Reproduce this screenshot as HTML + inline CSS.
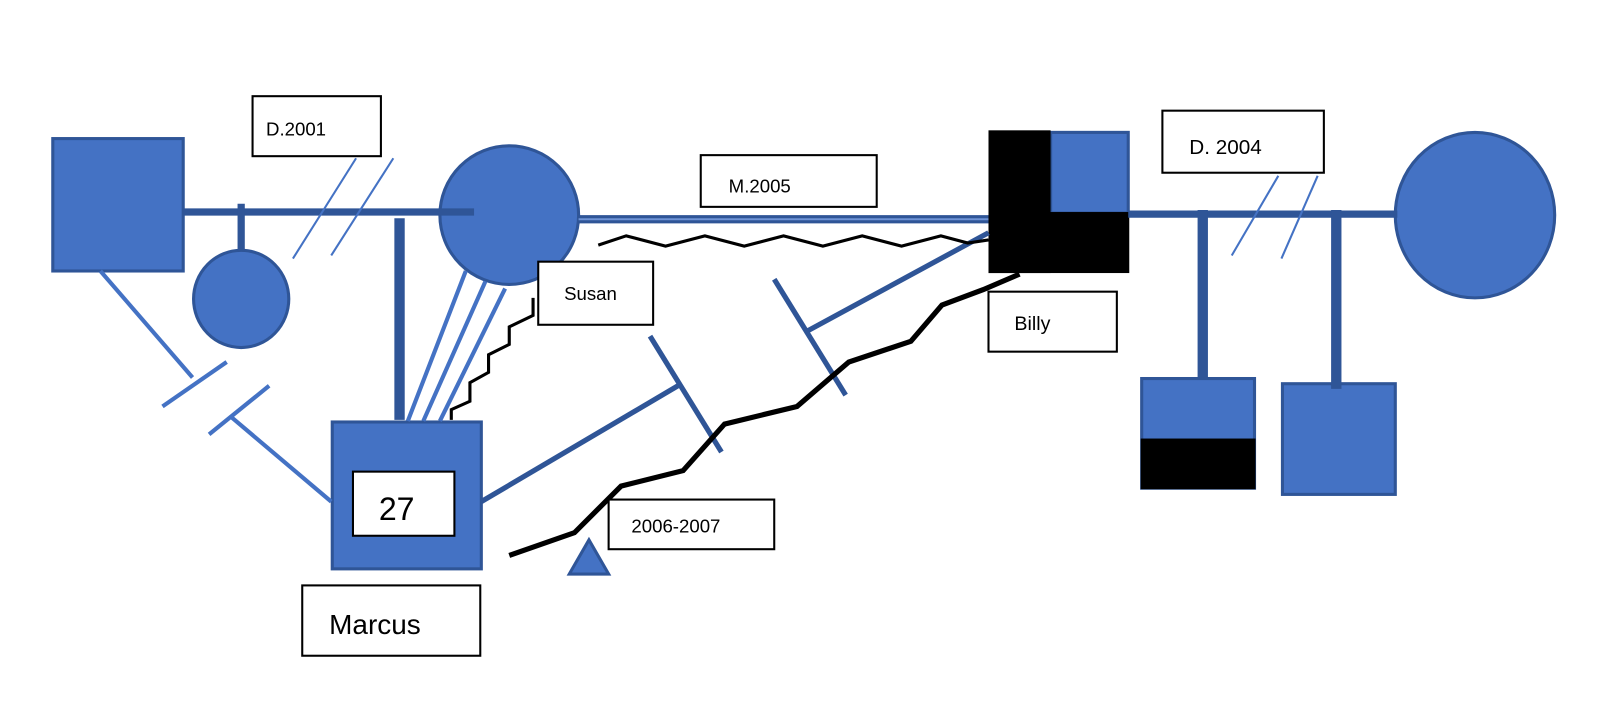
<!DOCTYPE html>
<html><head><meta charset="utf-8"><style>
html,body{margin:0;padding:0;background:#fff;}
svg{display:block;}
text{font-family:"Liberation Sans",sans-serif;fill:#000;}
</style></head><body>
<svg width="1623" height="724" viewBox="0 0 1568 700" preserveAspectRatio="none" xmlns="http://www.w3.org/2000/svg">
<g fill="#4472c4" stroke="#2f5597" stroke-width="3">
<rect x="51" y="134" width="126" height="128"/>
<ellipse cx="233" cy="289" rx="46" ry="47"/>
<circle cx="492" cy="208" r="67"/>
<rect x="321" y="408" width="144" height="142"/>
<ellipse cx="1425" cy="208" rx="77" ry="80"/>
<rect x="1103" y="366" width="109" height="106"/>
<rect x="1239" y="371" width="109" height="107"/>
<rect x="1015" y="128" width="75" height="78"/>
<polygon points="550,555 588,555 569,522"/>
</g>
<rect x="955" y="126" width="60" height="138" fill="#000"/>
<rect x="955" y="205" width="136" height="59" fill="#000"/>
<rect x="1102" y="424" width="111" height="49" fill="#000"/>

<g stroke="#2f5597" fill="none">
<line x1="177" y1="205" x2="458" y2="205" stroke-width="7"/>
<line x1="233" y1="197" x2="233" y2="243" stroke-width="7"/>
<line x1="386" y1="211" x2="386" y2="406" stroke-width="10"/>
<line x1="559" y1="212" x2="955" y2="212" stroke-width="8"/>
<line x1="1090" y1="207" x2="1350" y2="207" stroke-width="7"/>
<line x1="1162" y1="203" x2="1162" y2="366" stroke-width="10"/>
<line x1="1291" y1="203" x2="1291" y2="376" stroke-width="10"/>
</g>
<line x1="559" y1="212" x2="955" y2="212" stroke="#6f93d6" stroke-width="2"/>
<g stroke="#4472c4" fill="none">
<line x1="344" y1="153" x2="283" y2="250" stroke-width="2"/>
<line x1="380" y1="153" x2="320" y2="247" stroke-width="2"/>
<line x1="1235" y1="170" x2="1190" y2="247" stroke-width="2"/>
<line x1="1273" y1="170" x2="1238" y2="250" stroke-width="2"/>
<line x1="450" y1="262" x2="394" y2="407" stroke-width="4"/>
<line x1="469" y1="272" x2="409" y2="407" stroke-width="4"/>
<line x1="488" y1="279" x2="425" y2="407" stroke-width="4"/>
<line x1="97" y1="262" x2="186" y2="365" stroke-width="4"/>
<line x1="157" y1="393" x2="219" y2="350" stroke-width="4"/>
<line x1="202" y1="420" x2="260" y2="373" stroke-width="4"/>
<line x1="222" y1="402" x2="320" y2="485" stroke-width="4"/>
</g>
<g stroke="#2f5597" fill="none" stroke-width="5">
<line x1="465" y1="485" x2="655" y2="373"/>
<line x1="628" y1="325" x2="697" y2="437"/>
<line x1="780" y1="320" x2="955" y2="225"/>
<line x1="748" y1="270" x2="817" y2="382"/>
</g>
<polyline points="578,237 605,228 643,238 681,228 719,238 757,228 795,238 833,228 871,238 909,228 935,235 955,232" fill="none" stroke="#000" stroke-width="3"/>
<polyline points="515,288 515,305 492,316 492,333 472,343 472,360 454,370 454,388 436,396 436,406" fill="none" stroke="#000" stroke-width="3"/>
<polyline points="492,537 555,515 600,470 660,455 700,410 770,393 820,350 880,330 910,295 950,280 985,265" fill="none" stroke="#000" stroke-width="5"/>

<g fill="#fff" stroke="#000" stroke-width="2">
<rect x="244" y="93" width="124" height="58"/>
<rect x="520" y="253" width="111" height="61"/>
<rect x="341" y="456" width="98" height="62"/>
<rect x="292" y="566" width="172" height="68"/>
<rect x="588" y="483" width="160" height="48"/>
<rect x="677" y="150" width="170" height="50"/>
<rect x="955" y="282" width="124" height="58"/>
<rect x="1123" y="107" width="156" height="60"/>
</g>
<text x="257" y="131" font-size="18">D.2001</text>
<text x="545" y="290" font-size="18">Susan</text>
<text x="366" y="503" font-size="31">27</text>
<text x="318" y="613" font-size="27">Marcus</text>
<text x="610" y="515" font-size="18">2006-2007</text>
<text x="704" y="186" font-size="18">M.2005</text>
<text x="980" y="319" font-size="19">Billy</text>
<text x="1149" y="149" font-size="20">D. 2004</text>
</svg>
</body></html>
